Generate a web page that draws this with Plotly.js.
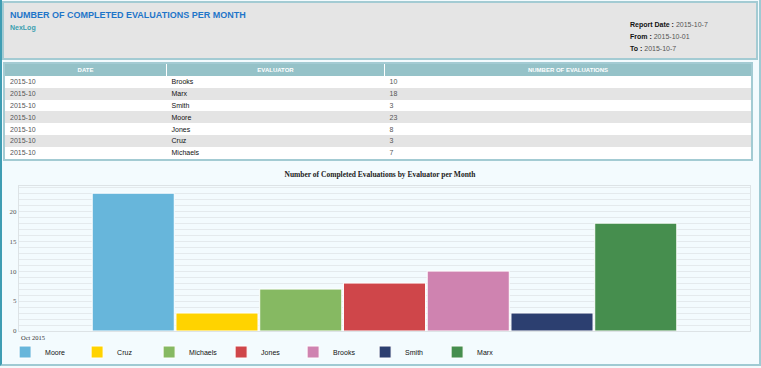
<!DOCTYPE html>
<html>
<head>
<meta charset="utf-8">
<script src="https://cdn.plot.ly/plotly-3.0.1.min.js"></script>
<style>
  html, body { margin:0; padding:0; }
  body { width:761px; height:368px; background:#f3fafc; position:relative; overflow:hidden; font-family:"Liberation Sans", Arial, sans-serif; }
  #frame { position:absolute; left:0; top:0; width:757px; height:364px; border-left:2px solid #3f9db3; border-right:2px solid #9fcad3; border-bottom:2px solid #9fcad3; background:#f3fbfe; }
  #header { position:absolute; left:2px; top:1px; width:752px; height:55px; background:#e5e5e5; border:2px solid #a3cbd3; }
  #title { position:absolute; left:6px; top:7px; font-weight:bold; font-size:9px; color:#1f75c9; white-space:nowrap; }
  #sub { position:absolute; left:6px; top:21px; font-weight:bold; font-size:7px; color:#3a9fb0; }
  #meta { position:absolute; left:626px; top:16px; font-size:7px; color:#555; line-height:12px; white-space:nowrap; }
  #meta b { color:#111; }
  #tbl { position:absolute; left:3px; top:62px; width:750px; border:2px solid #a3cbd3; border-collapse:collapse; background:#fff; }
  #tbl th { background:#95c2c8; color:#fff; font-size:6px; font-weight:bold; height:12px; padding:0; border-left:1px solid #fff; text-align:center; }
  #tbl th:first-child { border-left:none; }
  #tbl td { font-size:7px; line-height:8px; height:10.8px; padding:1px 0 0 5px; color:#555; }
  #tbl td.name { color:#111; }
  #tbl tr.alt td { background:#e4e4e4; }
  #chart { position:absolute; left:2px; top:163px; width:756px; height:200px; }
</style>
</head>
<body>
<div id="frame"></div>
<div id="header">
  <div id="title">NUMBER OF COMPLETED EVALUATIONS PER MONTH</div>
  <div id="sub">NexLog</div>
  <div id="meta"></div>
</div>
<table id="tbl"></table>
<div id="chart"></div>
<script>
// ---- data ----
const metaLabels = ['Report Date', 'From', 'To'];
const metaValues = ['2015-10-7', '2015-10-01', '2015-10-7'];

const tableHeaders = ['DATE', 'EVALUATOR', 'NUMBER OF EVALUATIONS'];
const tableDates = ['2015-10', '2015-10', '2015-10', '2015-10', '2015-10', '2015-10', '2015-10'];
const tableEvaluators = ['Brooks', 'Marx', 'Smith', 'Moore', 'Jones', 'Cruz', 'Michaels'];
const tableCounts = [10, 18, 3, 23, 8, 3, 7];

const chartTitle = 'Number of Completed Evaluations by Evaluator per Month';
const monthLabel = 'Oct 2015';
const evaluators = ['Moore', 'Cruz', 'Michaels', 'Jones', 'Brooks', 'Smith', 'Marx'];
const evaluations = [23, 3, 7, 8, 10, 3, 18];
const barColors = ['#67b6db', '#ffd300', '#86b962', '#cf464a', '#cf83b0', '#2c3f70', '#468e4e'];
const yTicks = [0, 5, 10, 15, 20];

// ---- header meta ----
document.getElementById('meta').innerHTML = metaLabels.map((l, i) => '<b>' + l + ' :</b> ' + metaValues[i]).join('<br>');

// ---- table ----
const colW = ['161px', '217px', 'auto'];
let html = '<tr>' + tableHeaders.map((h, i) => '<th style="width:' + colW[i] + '">' + h + '</th>').join('') + '</tr>';
tableDates.forEach((d, i) => {
  html += '<tr class="' + (i % 2 ? 'alt' : '') + '"><td>' + d + '</td><td class="name">' + tableEvaluators[i] + '</td><td>' + tableCounts[i] + '</td></tr>';
});
document.getElementById('tbl').innerHTML = html;

// ---- chart ----
const traces = evaluators.map((name, i) => ({
  type: 'bar',
  name: name,
  x: [monthLabel],
  y: [evaluations[i]],
  marker: { color: barColors[i], line: { color: '#ffffff', width: 1 } },
  hoverinfo: 'name+y'
}));

const layout = {
  width: 756, height: 200,
  margin: { l: 17, r: 8, t: 23, b: 32, autoexpand: false },
  paper_bgcolor: 'rgba(0,0,0,0)',
  plot_bgcolor: '#f3fbfe',
  barmode: 'group',
  bargap: 0.198,
  bargroupgap: 0.02,
  title: {
    text: '<b>' + chartTitle + '</b>',
    font: { family: '"Liberation Serif", "Times New Roman", serif', size: 7.5, color: '#222' },
    x: 0.5, xanchor: 'center', y: 0.945, yanchor: 'middle'
  },
  xaxis: {
    type: 'category',
    showticklabels: false,
    showline: true, linecolor: '#dde3e6', linewidth: 1, mirror: true,
    showgrid: false, zeroline: false, ticks: ''
  },
  yaxis: {
    range: [0, 24.2],
    tickvals: yTicks,
    tickfont: { family: '"Liberation Serif", "Times New Roman", serif', size: 7, color: '#555' },
    showline: true, linecolor: '#dde3e6', linewidth: 1, mirror: true,
    gridcolor: '#e4eaed', gridwidth: 1,
    minor: { dtick: 1, showgrid: true, gridcolor: '#e4eaed', gridwidth: 1 },
    zeroline: false, ticks: ''
  },
  showlegend: true,
  legend: {
    orientation: 'h',
    x: -0.019, xanchor: 'left',
    y: -0.145, yanchor: 'middle',
    entrywidth: 27, entrywidthmode: 'pixels',
    font: { family: '"Liberation Sans", Arial, sans-serif', size: 7, color: '#111' },
    traceorder: 'normal',
    bgcolor: 'rgba(0,0,0,0)'
  },
  annotations: [{
    text: monthLabel, xref: 'paper', yref: 'paper', x: 0, y: 0,
    xanchor: 'left', yanchor: 'top', yshift: -1, showarrow: false,
    font: { family: '"Liberation Serif", "Times New Roman", serif', size: 6.5, color: '#333' }
  }]
};

Plotly.newPlot('chart', traces, layout, { displayModeBar: false, staticPlot: true });
</script>
</body>
</html>
